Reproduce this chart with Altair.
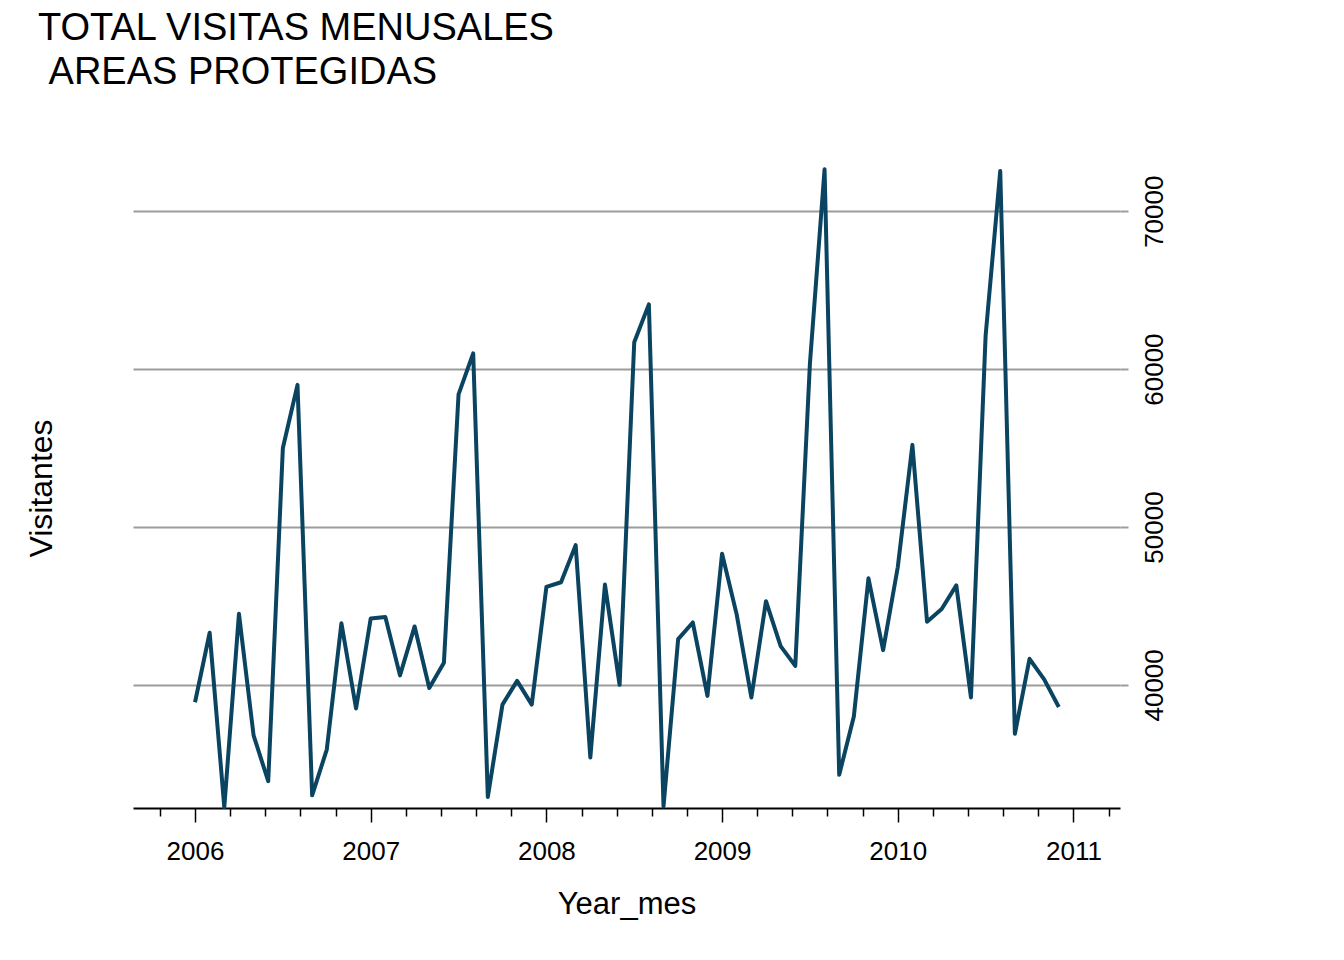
import altair as alt
import pandas as pd

# Monthly visitors
visitas_2006 = [38900, 43300, 32250, 44500, 36800, 33900, 55000, 59000, 33000, 35900, 43900, 38500]
visitas_2007 = [44200, 44300, 40600, 43700, 39800, 41400, 58400, 61000, 32900, 38750, 40250, 38750]
visitas_2008 = [46200, 46500, 48850, 35400, 46350, 40000, 61700, 64100, 32300, 42900, 43950, 39300]
visitas_2009 = [48300, 44450, 39200, 45300, 42450, 41200, 60350, 72650, 34300, 38000, 46750, 42200]
visitas_2010 = [47450, 55200, 44000, 44800, 46300, 39200, 62100, 72550, 36900, 41650, 40350, 38600]

anios = [2006, 2007, 2008, 2009, 2010]
meses = list(range(1, 13))

major_ticks = [2006, 2007, 2008, 2009, 2010, 2011]
minor_ticks = [2005.8, 2006.2, 2006.4, 2006.6, 2006.8, 2007.2, 2007.4, 2007.6, 2007.8,
               2008.2, 2008.4, 2008.6, 2008.8, 2009.2, 2009.4, 2009.6, 2009.8,
               2010.2, 2010.4, 2010.6, 2010.8, 2011.2]
y_ticks = [40000, 50000, 60000, 70000]

titulo = ["TOTAL VISITAS MENUSALES", "\u200b\u00a0AREAS PROTEGIDAS"]

series = [visitas_2006, visitas_2007, visitas_2008, visitas_2009, visitas_2010]
rows = []
for anio, vals in zip(anios, series):
    for mes, v in zip(meses, vals):
        rows.append({"Year_mes": anio + (mes - 1) / 12.0, "Visitantes": v})
df = pd.DataFrame(rows)

FONT = "Liberation Sans"
GRID = "#9c9c9c"
LINE = "#0a4460"

x_scale = alt.Scale(domain=[2005.647, 2011.265], nice=False, zero=False)
y_scale = alt.Scale(domain=[32200, 72800], nice=False, zero=False)

minor = alt.Chart(df).mark_line(strokeOpacity=0).encode(
    x=alt.X("Year_mes:Q", scale=x_scale,
            axis=alt.Axis(orient="bottom", values=minor_ticks, grid=False, domain=False,
                          labels=False, ticks=True, tickColor="black", tickSize=8,
                          tickWidth=1.5, title=None)),
    y=alt.Y("Visitantes:Q", scale=y_scale,
            axis=alt.Axis(orient="left", grid=False, domain=False, ticks=False, labels=False,
                          title="Visitantes", titleFont=FONT, titleFontSize=32,
                          titleFontWeight="normal", titleColor="black", titleAngle=270,
                          titleBaseline="alphabetic", titleAlign="center",
                          titleX=-82, titleY=321)),
)

line = alt.Chart(df).mark_line(color=LINE, strokeWidth=4, strokeJoin="round").encode(
    x=alt.X("Year_mes:Q", scale=x_scale,
            axis=alt.Axis(orient="bottom", values=major_ticks, format="d", grid=False,
                          domain=True, domainColor="black", domainWidth=2,
                          ticks=True, tickColor="black", tickSize=14, tickWidth=1.5,
                          labelFont=FONT, labelFontSize=26, labelColor="black",
                          labelPadding=16, labelFlush=False,
                          title="Year_mes", titleFont=FONT, titleFontSize=31,
                          titleFontWeight="normal", titleColor="black",
                          titleBaseline="alphabetic", titleY=105)),
    y=alt.Y("Visitantes:Q", scale=y_scale,
            axis=alt.Axis(orient="right", values=y_ticks, format="d", grid=True,
                          gridColor=GRID, gridWidth=2, domain=False,
                          ticks=True, tickColor=GRID, tickSize=8, tickWidth=2,
                          labelAngle=270, labelAlign="center", labelBaseline="top",
                          labelFont=FONT, labelFontSize=26, labelColor="black",
                          labelPadding=13, labelFlush=False, title=None)),
)

chart = alt.layer(minor, line).resolve_axis(x="independent", y="independent").properties(
    width=987,
    height=641,
    background="white",
    padding={"left": 125, "top": 159, "right": 60, "bottom": 140},
    autosize=alt.AutoSizeParams(type="none"),
    title=alt.Title(titulo, anchor="start", frame="group", font=FONT, fontSize=38,
                    fontWeight="normal", color="black", lineHeight=44,
                    offset=75, dx=-95),
).configure_view(strokeWidth=0, stroke="transparent")

chart.save("out.html", embed_options={"renderer": "svg", "actions": False})
